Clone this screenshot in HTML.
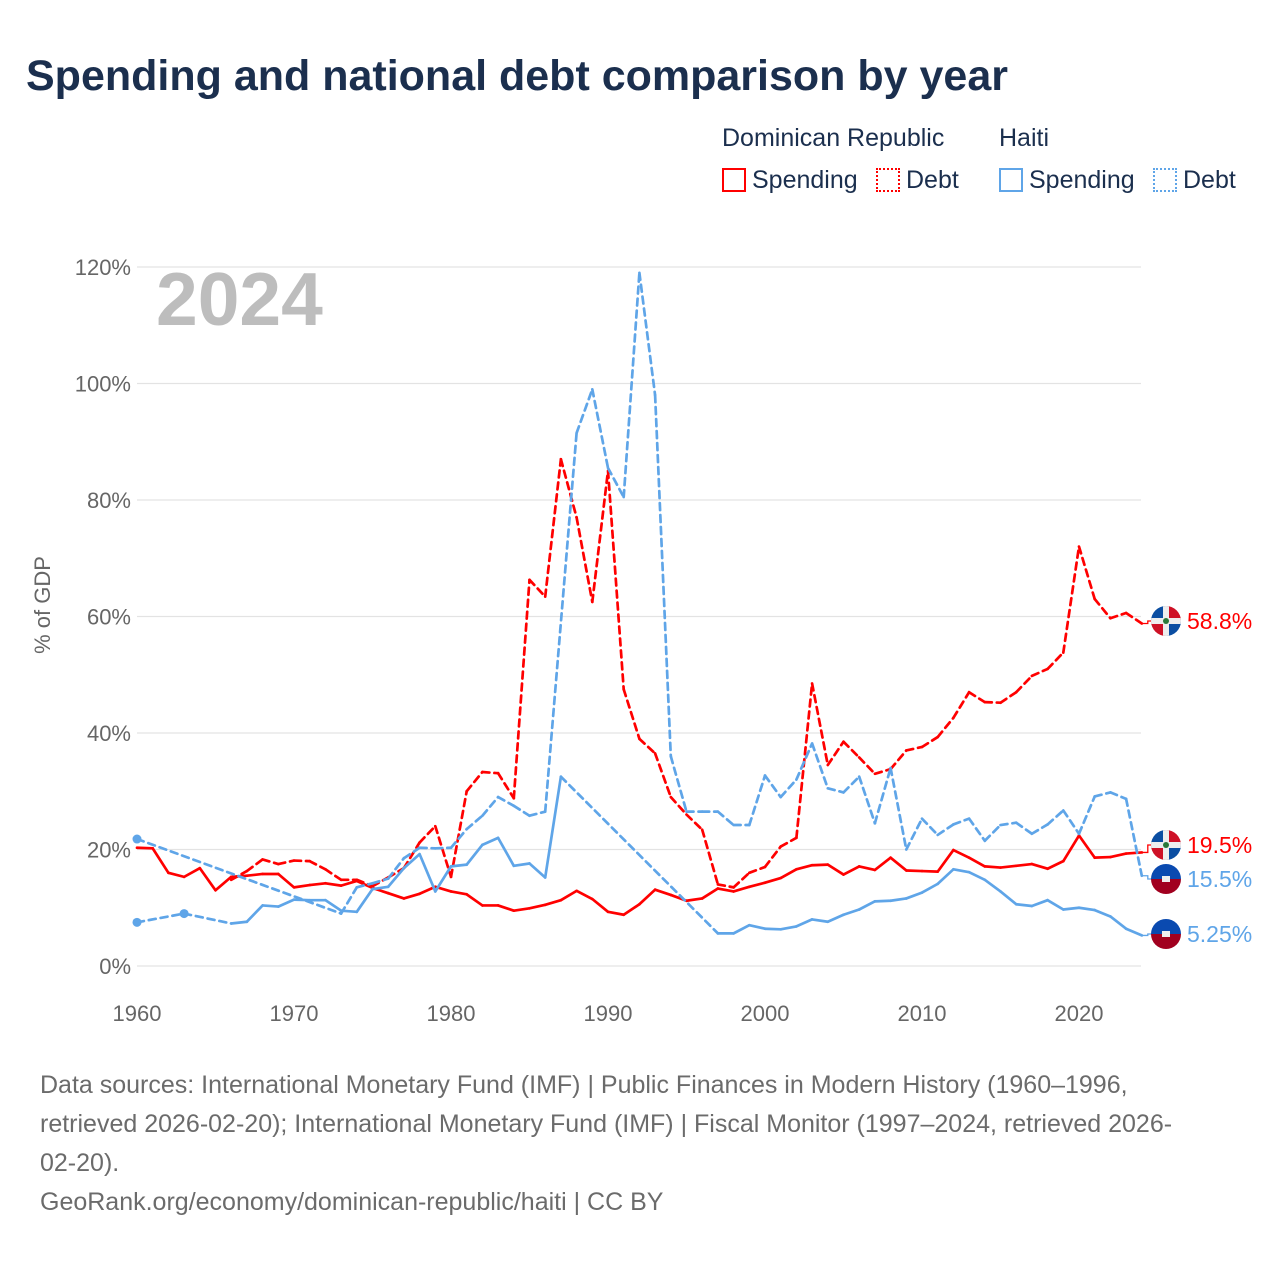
<!DOCTYPE html>
<html><head><meta charset="utf-8">
<style>
body{margin:0;background:#fff;font-family:"Liberation Sans",sans-serif;}
#wrap{position:relative;width:1280px;height:1280px;overflow:hidden;}
.t{position:absolute;white-space:nowrap;}
</style></head>
<body>
<div id="wrap">
<div class="t" style="left:26px;top:52px;font-size:43px;font-weight:bold;color:#1b2f4e;">Spending and national debt comparison by year</div>
<div class="t" style="left:722px;top:124px;font-size:25px;color:#1b2f4e;">Dominican Republic</div>
<div class="t" style="left:999px;top:124px;font-size:25px;color:#1b2f4e;">Haiti</div>
<div class="t" style="left:722px;top:166px;font-size:25px;color:#1b2f4e;"><span style="display:inline-block;width:20px;height:20px;border:2px solid #f00;vertical-align:-4px;margin-right:6px;"></span>Spending</div>
<div class="t" style="left:876px;top:166px;font-size:25px;color:#1b2f4e;"><span style="display:inline-block;width:20px;height:20px;border:2px dotted #f00;vertical-align:-4px;margin-right:6px;"></span>Debt</div>
<div class="t" style="left:999px;top:166px;font-size:25px;color:#1b2f4e;"><span style="display:inline-block;width:20px;height:20px;border:2px solid #5fa5e8;vertical-align:-4px;margin-right:6px;"></span>Spending</div>
<div class="t" style="left:1153px;top:166px;font-size:25px;color:#1b2f4e;"><span style="display:inline-block;width:20px;height:20px;border:2px dotted #5fa5e8;vertical-align:-4px;margin-right:6px;"></span>Debt</div>
<svg id="chart" width="1280" height="1280" style="position:absolute;left:0;top:0;" xmlns="http://www.w3.org/2000/svg"></svg>
<div class="t" style="left:40px;top:1066px;font-size:25px;line-height:39px;color:#6b6b6b;">Data sources: International Monetary Fund (IMF) | Public Finances in Modern History (1960–1996,<br>retrieved 2026-02-20); International Monetary Fund (IMF) | Fiscal Monitor (1997–2024, retrieved 2026-<br>02-20).<br>GeoRank.org/economy/dominican-republic/haiti | CC BY</div>
</div>
<script>
const yTicks=[0,20,40,60,80,100,120];
const xTicks=[1960,1970,1980,1990,2000,2010,2020];
const drSpendYears=[1960,1961,1962,1963,1964,1965,1966,1967,1968,1969,1970,1971,1972,1973,1974,1975,1976,1977,1978,1979,1980,1981,1982,1983,1984,1985,1986,1987,1988,1989,1990,1991,1992,1993,1994,1995,1996,1997,1998,1999,2000,2001,2002,2003,2004,2005,2006,2007,2008,2009,2010,2011,2012,2013,2014,2015,2016,2017,2018,2019,2020,2021,2022,2023,2024];
const drSpend=[20.3,20.2,16,15.3,16.8,13,15.3,15.5,15.8,15.8,13.5,13.9,14.2,13.8,14.6,13.4,12.5,11.6,12.4,13.6,12.8,12.3,10.4,10.4,9.5,9.9,10.5,11.3,12.9,11.5,9.3,8.8,10.6,13.1,12.2,11.2,11.6,13.3,12.8,13.6,14.3,15.1,16.6,17.3,17.4,15.7,17.1,16.5,18.6,16.4,16.3,16.2,19.9,18.6,17.1,16.9,17.2,17.5,16.7,18,22.4,18.6,18.7,19.3,19.5];
const drDebtYears=[1966,1967,1968,1969,1970,1971,1972,1973,1974,1975,1976,1977,1978,1979,1980,1981,1982,1983,1984,1985,1986,1987,1988,1989,1990,1991,1992,1993,1994,1995,1996,1997,1998,1999,2000,2001,2002,2003,2004,2005,2006,2007,2008,2009,2010,2011,2012,2013,2014,2015,2016,2017,2018,2019,2020,2021,2022,2023,2024];
const drDebt=[14.8,16.3,18.3,17.5,18.1,18,16.6,14.8,14.8,13.7,15.2,16.8,21.2,24,15.3,30,33.3,33.1,28.8,66.3,63.4,87,77,62.5,85,47.5,39,36.5,29,26,23.4,14,13.5,16,17,20.5,22,48.5,34.5,38.5,35.8,33,33.8,37,37.6,39.3,42.6,47,45.3,45.2,47,49.8,51,53.8,72,63,59.7,60.6,58.8];
const htSpendYears=[1960,1963,1966,1967,1968,1969,1970,1971,1972,1973,1974,1975,1976,1977,1978,1979,1980,1981,1982,1983,1984,1985,1986,1987,1997,1998,1999,2000,2001,2002,2003,2004,2005,2006,2007,2008,2009,2010,2011,2012,2013,2014,2015,2016,2017,2018,2019,2020,2021,2022,2023,2024];
const htSpend=[7.5,9,7.3,7.6,10.4,10.2,11.4,11.3,11.3,9.5,9.3,13.2,13.6,16.8,19.2,12.8,17.1,17.4,20.8,22,17.2,17.6,15.2,32.5,5.6,5.6,7,6.4,6.3,6.8,8,7.6,8.8,9.7,11.1,11.2,11.6,12.6,14.1,16.6,16.1,14.8,12.8,10.6,10.3,11.3,9.7,10,9.6,8.5,6.4,5.25];
const htDebtYears=[1960,1973,1974,1975,1976,1977,1978,1979,1980,1981,1982,1983,1984,1985,1986,1988,1989,1990,1991,1992,1993,1994,1995,1996,1997,1998,1999,2000,2001,2002,2003,2004,2005,2006,2007,2008,2009,2010,2011,2012,2013,2014,2015,2016,2017,2018,2019,2020,2021,2022,2023,2024];
const htDebt=[21.8,9,13.5,14.2,15,18.5,20.3,20.2,20.3,23.5,25.8,29,27.5,25.8,26.5,91.5,99,85.5,80.5,119,98,36,26.5,26.5,26.5,24.2,24.2,32.7,29,32,38.2,30.5,29.8,32.5,24.5,34,20,25.3,22.5,24.3,25.3,21.5,24.2,24.6,22.7,24.3,26.7,22.7,29.1,29.8,28.7,15.5];

const svg=document.getElementById('chart');
const NS='http://www.w3.org/2000/svg';
const X=y=>137+(y-1960)*15.7;
const Y=v=>966-v*5.825;
function mk(tag,attrs){const e=document.createElementNS(NS,tag);for(const k in attrs)e.setAttribute(k,attrs[k]);svg.appendChild(e);return e;}
yTicks.forEach(v=>{
  const g=mk('line',{x1:137,x2:1141,y1:Y(v),y2:Y(v),stroke:'#e3e3e3','stroke-width':1.3});
  
  
  const t=mk('text',{x:131,y:Y(v)+8,'text-anchor':'end','font-size':22,fill:'#666','font-family':'Liberation Sans'});
  t.textContent=v+'%';
  
  
});
xTicks.forEach(y=>{
  const t=mk('text',{x:X(y),y:1021,'text-anchor':'middle','font-size':22,fill:'#666','font-family':'Liberation Sans'});
  t.textContent=y;
  
  
});
const yt=mk('text',{x:0,y:0,transform:'translate(50,605) rotate(-90)','text-anchor':'middle','font-size':22,fill:'#666','font-family':'Liberation Sans'});
yt.textContent='% of GDP';


const yr=mk('text',{x:156,y:325,'font-size':75,'font-weight':'bold',fill:'#bdbdbd','font-family':'Liberation Sans'});
yr.textContent='2024';



function series(name,years,vals,color,dashed){
  for(let i=1;i<years.length;i++){
    const gap=years[i]-years[i-1]>1;
    const l=mk('line',{x1:X(years[i-1]),y1:Y(vals[i-1]),x2:X(years[i]),y2:Y(vals[i]),stroke:color,'stroke-width':2.7,'stroke-linecap':'round','stroke-dasharray':(dashed||gap)?'7,5':'none'});
    
    
  }
}
series('dr-spending',drSpendYears,drSpend,'#ff0000',false);
series('dr-debt',drDebtYears,drDebt,'#ff0000',true);
series('haiti-spending',htSpendYears,htSpend,'#5fa5e8',false);
series('haiti-debt',htDebtYears,htDebt,'#5fa5e8',true);
[[1960,htSpend[0]],[1963,htSpend[1]],[1960,htDebt[0]]].forEach(p=>{
  const c=mk('circle',{cx:X(p[0]),cy:Y(p[1]),r:4.5,fill:'#5fa5e8'});
  
  
});

function flag(cx,cy,dr){
  const g=document.createElementNS(NS,'g');svg.appendChild(g);
  
  
  const r=15;
  if(dr){
    g.innerHTML=`<clipPath id="c${cy}"><circle cx="${cx}" cy="${cy}" r="${r}"/></clipPath><g clip-path="url(#c${cy})"><rect x="${cx-r}" y="${cy-r}" width="${r}" height="${r}" fill="#0b4ea2"/><rect x="${cx}" y="${cy-r}" width="${r}" height="${r}" fill="#ce1126"/><rect x="${cx-r}" y="${cy}" width="${r}" height="${r}" fill="#ce1126"/><rect x="${cx}" y="${cy}" width="${r}" height="${r}" fill="#0b4ea2"/><rect x="${cx-3}" y="${cy-r}" width="6" height="${2*r}" fill="#eee"/><rect x="${cx-r}" y="${cy-3}" width="${2*r}" height="6" fill="#eee"/><circle cx="${cx}" cy="${cy}" r="3" fill="#2a7a3a"/></g>`;
  }else{
    g.innerHTML=`<clipPath id="c${cy}"><circle cx="${cx}" cy="${cy}" r="${r}"/></clipPath><g clip-path="url(#c${cy})"><rect x="${cx-r}" y="${cy-r}" width="${2*r}" height="${r}" fill="#0a4ab0"/><rect x="${cx-r}" y="${cy}" width="${2*r}" height="${r}" fill="#a1001f"/><rect x="${cx-4}" y="${cy-3}" width="8" height="6" fill="#eee"/></g>`;
  }
}
const ends=[[drDebt,'#ff0000',true,'58.8%'],[drSpend,'#ff0000',true,'19.5%'],[htDebt,'#5fa5e8',false,'15.5%'],[htSpend,'#5fa5e8',false,'5.25%']];
const labelY=[621,845,879,934];
ends.forEach((e,i)=>{
  const v=e[0][e[0].length-1];
  const ly=labelY[i];
  const p=mk('polyline',{points:`${X(2024)},${Y(v)} ${X(2024)+6},${Y(v)} ${X(2024)+6},${ly} 1152,${ly}`,fill:'none',stroke:e[1],'stroke-width':1.3});
  
  
  flag(1166,ly,e[2]);
  const t=mk('text',{x:1187,y:ly+8,'font-size':23,fill:e[1],'font-family':'Liberation Sans'});
  t.textContent=e[3];
  
  
});
</script>
</body></html>
